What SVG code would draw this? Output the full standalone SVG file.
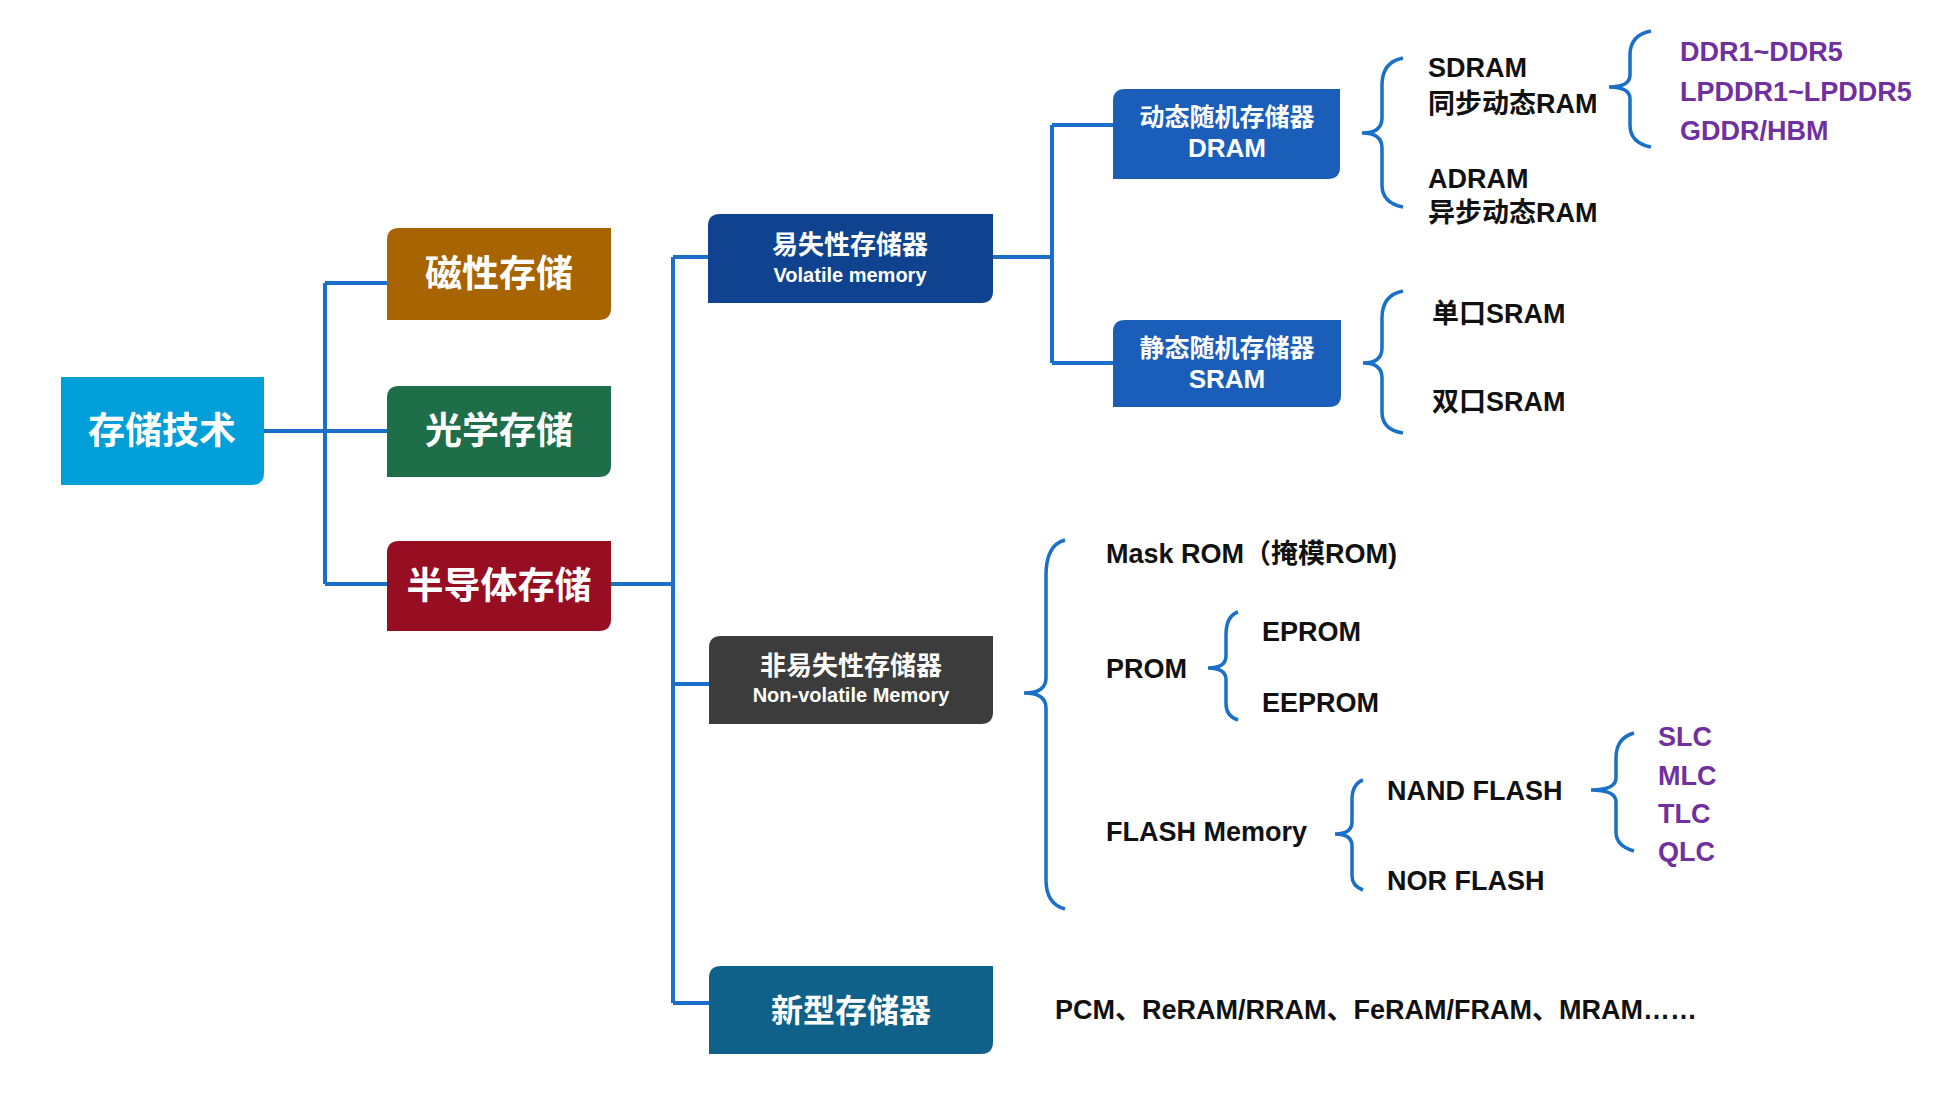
<svg xmlns="http://www.w3.org/2000/svg" width="1937" height="1094" viewBox="0 0 1937 1094">
<style>
.n{font-family:"Liberation Sans","Noto Sans CJK SC",sans-serif;font-weight:bold;fill:#fff;text-anchor:middle}
.t{font-family:"Liberation Sans","Noto Sans CJK SC",sans-serif;font-weight:bold;fill:#111;font-size:27px}
.p{fill:#7030a0}
.c{fill:none;stroke:#1a6fc8;stroke-width:4}
.b{fill:none;stroke:#1a6fc8;stroke-width:3.5}
</style>
<rect width="1937" height="1094" fill="#fff"/>
<g id="connectors">
<path class="c" d="M264 431H387M325 283V584M325 283H387M325 584H387"/>
<path class="c" d="M611 584H673M673 257V1003M673 257H708M673 684H709M673 1003H709"/>
<path class="c" d="M993 257H1052M1052 125V363M1052 125H1113M1052 363H1113"/>
<path class="b" d="M1403 58Q1382 62 1382 85V118Q1382 133 1362 133Q1382 133 1382 148V185Q1382 203 1403 207"/>
<path class="b" d="M1651 31Q1630 35 1630 55V75Q1630 87 1609 87Q1630 87 1630 99V125Q1630 143 1651 147"/>
<path class="b" d="M1403 291Q1382 295 1382 318V348Q1382 363 1363 363Q1382 363 1382 378V412Q1382 430 1403 433"/>
<path class="b" d="M1065 540Q1046 545 1046 575V678Q1046 693 1024 693Q1046 693 1046 708V880Q1046 904 1065 909"/>
<path class="b" d="M1238 612Q1226 616 1226 635V656Q1226 668 1208 668Q1226 668 1226 680V704Q1226 716 1238 720"/>
<path class="b" d="M1363 780Q1352 784 1352 800V822Q1352 834 1335 834Q1352 834 1352 846V876Q1352 886 1363 890"/>
<path class="b" d="M1634 733Q1616 738 1616 758V778Q1616 790 1591 790Q1616 790 1616 802V832Q1616 846 1634 851"/>
</g>
<g id="root"><path d="M61 377H264V473Q264 485 252 485H61Z" fill="#009fda"/><text class="n" x="162" y="444" font-size="37">存储技术</text></g>
<g id="magnetic"><path d="M399 228H611V308Q611 320 599 320H387V240Q387 228 399 228Z" fill="#a86400"/><text class="n" x="499" y="287" font-size="37">磁性存储</text></g>
<g id="optical"><path d="M399 386H611V465Q611 477 599 477H387V398Q387 386 399 386Z" fill="#1e6e4a"/><text class="n" x="499" y="444" font-size="37">光学存储</text></g>
<g id="semi"><path d="M399 541H611V619Q611 631 599 631H387V553Q387 541 399 541Z" fill="#970d22"/><text class="n" x="499" y="599" font-size="37">半导体存储</text></g>
<g id="volatile"><path d="M720 214H993V291Q993 303 981 303H708V226Q708 214 720 214Z" fill="#0f4390"/><text class="n" x="850" y="254" font-size="26">易失性存储器</text><text class="n" x="850" y="282" font-size="20" font-weight="normal">Volatile memory</text></g>
<g id="nonvolatile"><path d="M721 636H993V712Q993 724 981 724H709V648Q709 636 721 636Z" fill="#3c3c3c"/><text class="n" x="851" y="675" font-size="26">非易失性存储器</text><text class="n" x="851" y="702" font-size="20" font-weight="normal">Non-volatile Memory</text></g>
<g id="newmem"><path d="M721 966H993V1042Q993 1054 981 1054H709V978Q709 966 721 966Z" fill="#10618a"/><text class="n" x="851" y="1022" font-size="32">新型存储器</text></g>
<g id="dram"><path d="M1125 89H1340V167Q1340 179 1328 179H1113V101Q1113 89 1125 89Z" fill="#1b5eba"/><text class="n" x="1227" y="126" font-size="25">动态随机存储器</text><text class="n" x="1227" y="157" font-size="26">DRAM</text></g>
<g id="sram"><path d="M1125 320H1341V395Q1341 407 1329 407H1113V332Q1113 320 1125 320Z" fill="#1b5eba"/><text class="n" x="1227" y="357" font-size="25">静态随机存储器</text><text class="n" x="1227" y="388" font-size="26">SRAM</text></g>
<g id="labels">
<text class="t" x="1428" y="77">SDRAM</text>
<text class="t" x="1428" y="113">同步动态RAM</text>
<text class="t" x="1428" y="188">ADRAM</text>
<text class="t" x="1428" y="222">异步动态RAM</text>
<text class="t p" x="1680" y="61">DDR1~DDR5</text>
<text class="t p" x="1680" y="101">LPDDR1~LPDDR5</text>
<text class="t p" x="1680" y="140">GDDR/HBM</text>
<text class="t" x="1432" y="323">单口SRAM</text>
<text class="t" x="1432" y="411">双口SRAM</text>
<text class="t" x="1106" y="563">Mask ROM（掩模ROM)</text>
<text class="t" x="1106" y="678">PROM</text>
<text class="t" x="1262" y="641">EPROM</text>
<text class="t" x="1262" y="712">EEPROM</text>
<text class="t" x="1106" y="841">FLASH Memory</text>
<text class="t" x="1387" y="800">NAND FLASH</text>
<text class="t" x="1387" y="890">NOR FLASH</text>
<text class="t p" x="1658" y="746">SLC</text>
<text class="t p" x="1658" y="785">MLC</text>
<text class="t p" x="1658" y="823">TLC</text>
<text class="t p" x="1658" y="861">QLC</text>
<text class="t" x="1055" y="1019">PCM、ReRAM/RRAM、FeRAM/FRAM、MRAM……</text>
</g>
</svg>
